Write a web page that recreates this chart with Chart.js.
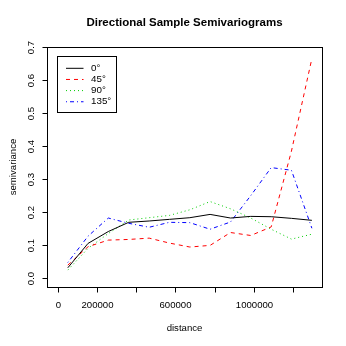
<!DOCTYPE html>
<html>
<head>
<meta charset="utf-8">
<script src="https://cdn.jsdelivr.net/npm/chart.js@4"></script>
<style>
  body { margin: 0; background: #fff; }
  canvas { display: block; }
</style>
</head>
<body>
<canvas id="vario" width="346" height="346"></canvas>
<script>
// lag distances (bin centres)
const lags = [52000, 155000, 258000, 362000, 466000, 569000, 673000, 776000, 880000, 983000, 1087000, 1190000, 1294000];

// semivariance per direction
const dir0   = [0.031, 0.105, 0.141, 0.169, 0.173, 0.178, 0.183, 0.193, 0.182, 0.187, 0.186, 0.181, 0.175];
const dir45  = [0.039, 0.095, 0.115, 0.117, 0.121, 0.106, 0.094, 0.099, 0.138, 0.129, 0.155, 0.385, 0.666];
const dir90  = [0.024, 0.090, 0.135, 0.176, 0.183, 0.190, 0.207, 0.232, 0.210, 0.182, 0.148, 0.118, 0.133];
const dir135 = [0.047, 0.127, 0.182, 0.166, 0.154, 0.169, 0.168, 0.148, 0.170, 0.250, 0.335, 0.327, 0.151];

const seriesNames = ['0°', '45°', '90°', '135°'];
const colors = ['#000000', '#FF0000', '#00CD00', '#0000FF'];
const dashes = [[], [4, 4], [1, 3], [1, 3, 4, 3]];

const xTicks = [0, 200000, 400000, 600000, 800000, 1000000, 1200000];
const xTickLabels = ['0', '200000', '', '600000', '', '1000000', ''];
const yTicks = [0, 0.1, 0.2, 0.3, 0.4, 0.5, 0.6, 0.7];
const yTickLabels = ['0.0', '0.1', '0.2', '0.3', '0.4', '0.5', '0.6', '0.7'];

const FONT = '"Liberation Sans", Arial, Helvetica, sans-serif';

function pts(vals) {
    return lags.map((d, i) => ({ x: d, y: vals[i] }));
}

// R-style axes, box, title and legend drawn on top
const baseGraphics = {
    id: 'baseGraphics',
    afterDraw(chart) {
        const ctx = chart.ctx;
        const a = chart.chartArea;
        const xs = chart.scales.x;
        const ys = chart.scales.y;
        ctx.save();
        ctx.strokeStyle = '#000';
        ctx.fillStyle = '#000';
        ctx.lineWidth = 1;
        ctx.setLineDash([]);

        // box
        ctx.strokeRect(Math.round(a.left) + 0.5, Math.round(a.top) + 0.5,
            Math.round(a.right - a.left), Math.round(a.bottom - a.top));

        // x ticks
        ctx.font = '9.6px ' + FONT;
        ctx.textAlign = 'center';
        ctx.textBaseline = 'middle';
        const yb = Math.round(a.bottom) + 0.5;
        xTicks.forEach((t, i) => {
            const px = Math.round(xs.getPixelForValue(t)) + 0.5;
            ctx.beginPath();
            ctx.moveTo(px, yb);
            ctx.lineTo(px, yb + 5);
            ctx.stroke();
            if (xTickLabels[i]) ctx.fillText(xTickLabels[i], px, 305);
        });
        ctx.fillText('distance', (a.left + a.right) / 2, 328);

        // y ticks (rotated labels)
        const xl = Math.round(a.left) + 0.5;
        yTicks.forEach((t, i) => {
            const py = Math.round(ys.getPixelForValue(t)) + 0.5;
            ctx.beginPath();
            ctx.moveTo(xl, py);
            ctx.lineTo(xl - 5, py);
            ctx.stroke();
            ctx.save();
            ctx.translate(31.5, py);
            ctx.rotate(-Math.PI / 2);
            ctx.fillText(yTickLabels[i], 0, 0);
            ctx.restore();
        });
        ctx.save();
        ctx.translate(13.5, (a.top + a.bottom) / 2);
        ctx.rotate(-Math.PI / 2);
        ctx.fillText('semivariance', 0, 0);
        ctx.restore();

        // title
        ctx.font = 'bold 11.5px ' + FONT;
        ctx.fillText('Directional Sample Semivariograms', (a.left + a.right) / 2, 23);

        // legend
        ctx.strokeRect(57.5, 56.5, 59, 56);
        ctx.font = '9.8px ' + FONT;
        ctx.textAlign = 'left';
        seriesNames.forEach((name, i) => {
            const ly = 68.3 + i * 11.15;
            ctx.strokeStyle = colors[i];
            ctx.setLineDash(dashes[i]);
            ctx.beginPath();
            ctx.moveTo(66, ly);
            ctx.lineTo(83.5, ly);
            ctx.stroke();
            ctx.setLineDash([]);
            ctx.fillStyle = '#000';
            ctx.fillText(name, 91, ly);
        });
        ctx.restore();
    }
};

new Chart(document.getElementById('vario'), {
    type: 'line',
    data: {
        datasets: seriesNames.map((name, i) => ({
            label: name,
            data: pts([dir0, dir45, dir90, dir135][i]),
            borderColor: colors[i],
            borderDash: dashes[i]
        }))
    },
    options: {
        responsive: false,
        animation: false,
        layout: { padding: { left: 47, right: 24, top: 47, bottom: 59 } },
        elements: {
            line: { borderWidth: 1, tension: 0, fill: false },
            point: { radius: 0 }
        },
        scales: {
            x: { type: 'linear', min: -53900, max: 1345500, display: false },
            y: { type: 'linear', min: -0.0273, max: 0.701, display: false }
        },
        plugins: {
            legend: { display: false },
            tooltip: { enabled: false },
            title: { display: false }
        }
    },
    plugins: [baseGraphics]
});
</script>
</body>
</html>
